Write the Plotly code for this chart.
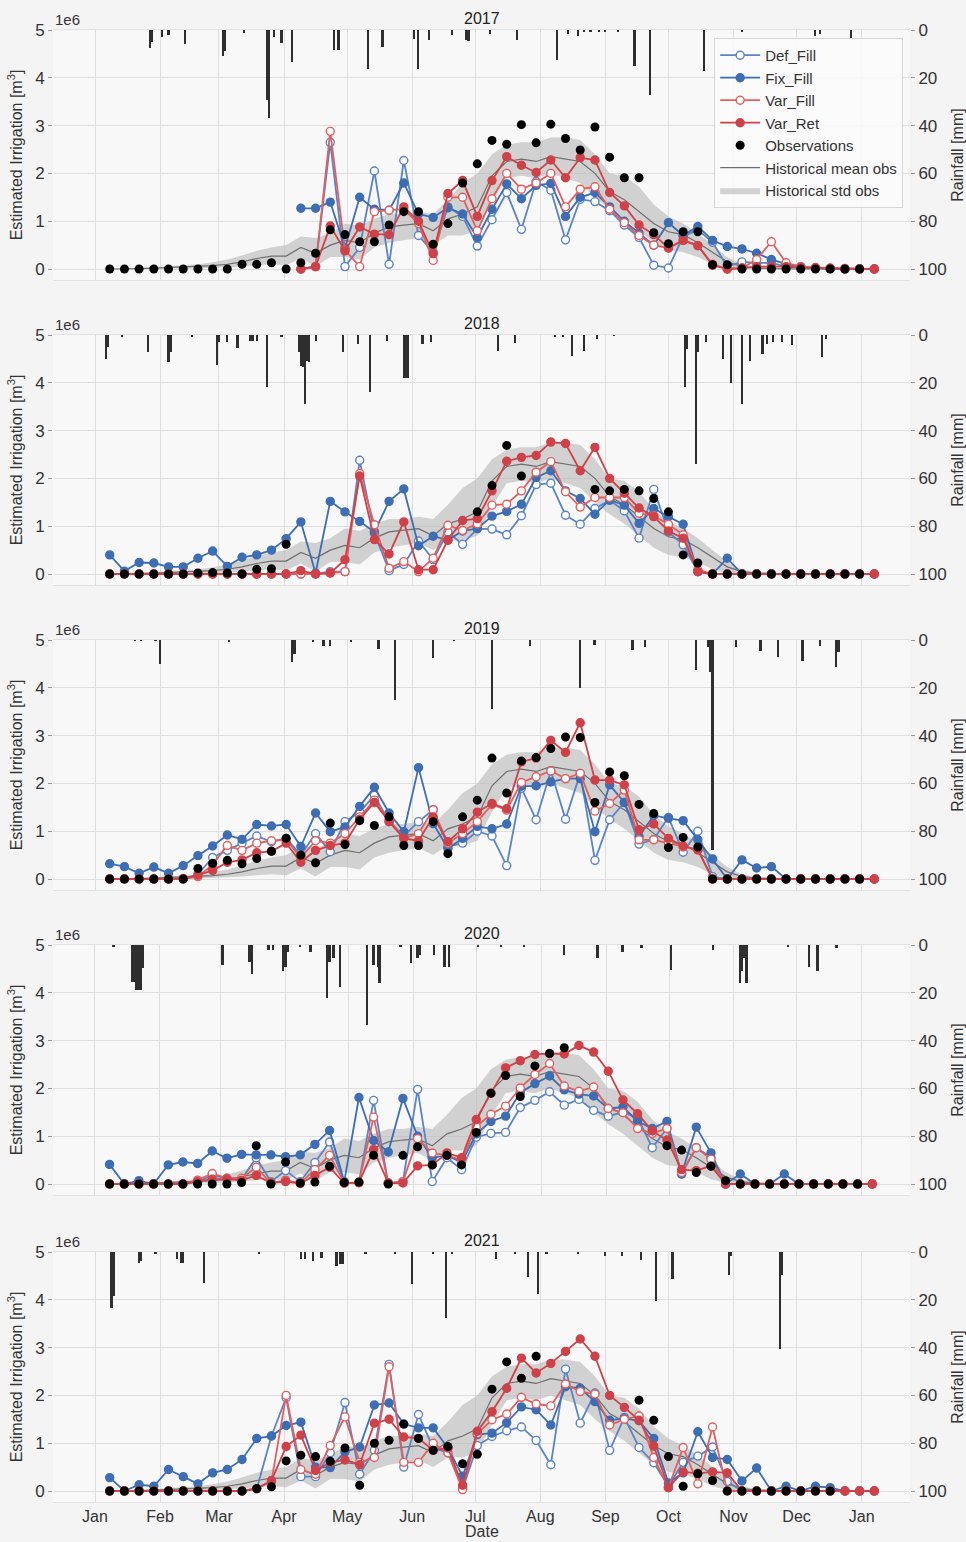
import pandas as pd
import plotly.graph_objects as go

N = None
years = [2017, 2018, 2019, 2020, 2021]

# Historical statistics of observations (in 1e6 m3), weekly
hist_mean = [0, 0, 0.01, 0.02, 0.03, 0.04, 0.05, 0.07, 0.1, 0.15,
             0.22, 0.27, 0.27, 0.45, 0.33, 0.5, 0.6, 0.55, 0.75, 0.88,
             0.92, 0.95, 0.8, 1.05, 1.15, 1.3, 1.95, 2.25, 2.3, 2.25,
             2.35, 2.3, 2.25, 2.0, 1.62, 1.45, 1.2, 0.95, 0.78, 0.72,
             0.55, 0.35, 0.15, 0.05, 0.02, 0.01, 0, 0, 0, 0,
             0, 0, 0]
hist_std_upper = [0, 0, 0.02, 0.04, 0.06, 0.08, 0.1, 0.14, 0.2, 0.28,
                  0.38, 0.45, 0.5, 0.68, 0.65, 0.75, 0.95, 0.9, 1.05, 1.15,
                  1.15, 1.2, 1.15, 1.45, 1.8, 2.0, 2.4, 2.6, 2.65, 2.65,
                  2.75, 2.75, 2.7, 2.4, 2.0, 1.95, 1.72, 1.35, 1.1, 0.95,
                  0.75, 0.5, 0.25, 0.1, 0.04, 0.02, 0.01, 0, 0, 0,
                  0, 0, 0]
hist_std_lower = [0, 0, 0, 0, 0, 0.01, 0.01, 0.02, 0.03, 0.05,
                  0.08, 0.1, 0.08, 0.22, 0.05, 0.25, 0.25, 0.2, 0.45, 0.55,
                  0.6, 0.65, 0.5, 0.7, 0.7, 0.8, 1.4, 1.9, 1.95, 1.9,
                  2.0, 1.9, 1.8, 1.5, 1.25, 1.05, 0.8, 0.55, 0.4, 0.35,
                  0.25, 0.1, 0.02, 0, 0, 0, 0, 0, 0, 0,
                  0, 0, 0]

# ---------------- 2017 ----------------
obs_2017 = [0, 0, 0, 0, 0, 0, 0, 0, 0, 0.1,
            0.1, 0.13, 0, 0.13, 0.33, 0.82, 0.72, 0.57, 0.57, 0.92,
            1.2, 1.2, 0.52, 0.95, 1.8, 2.2, 2.69, 2.61, 3.02, 2.64,
            3.03, 2.73, 2.49, 2.97, 2.34, 1.91, 1.91, 0.76, 0.53, 0.78,
            0.78, 0.09, 0.09, 0, 0, 0, 0, 0, 0, 0,
            0, 0, N]
def_2017 = [N, N, N, N, N, N, N, N, N, N,
            N, N, N, 0, 0.05, 2.65, 0.05, 0.45, 2.05, 0.1,
            2.27, 0.7, 0.35, 1.3, 1.1, 0.48, 1.03, 1.6, 0.83, 1.83,
            1.65, 0.61, 1.46, 1.41, 1.22, 0.92, 0.66, 0.08, 0.02, 0.68,
            0.82, 0.56, 0.05, 0.15, 0.13, 0.13, 0.05, 0.03, 0.02, 0.01,
            0, 0, 0]
fix_2017 = [N, N, N, N, N, N, N, N, N, N,
            N, N, N, 1.27, 1.27, 1.4, 0.44, 1.5, 1.25, 1.23,
            1.8, 1.15, 1.08, 1.28, 1.15, 0.66, 1.25, 1.78, 1.47, 1.75,
            1.79, 1.1, 1.5, 1.6, 1.3, 1.0, 0.75, 0.5, 0.97, 0.7,
            0.89, 0.6, 0.47, 0.42, 0.33, 0.2, 0.1, 0.05, 0.02, 0.01,
            0, 0, 0]
varfill_2017 = [N, N, N, N, N, N, N, N, N, N,
                N, N, N, 0, 0.05, 2.88, 0.4, 0.05, 1.2, 1.23,
                1.25, 0.95, 0.18, 1.5, 1.5, 0.8, 1.47, 2.0, 1.67, 1.8,
                2.0, 1.3, 1.67, 1.72, 1.25, 0.97, 0.7, 0.5, 0.44, 0.6,
                0.49, 0.1, 0, 0.02, 0.2, 0.57, 0.13, 0.05, 0.03, 0.02,
                0.01, 0, 0]
varret_2017 = [N, N, N, N, N, N, N, N, N, N,
               N, N, N, 0, 0.05, 0.9, 0.38, 0.88, 0.73, 0.72,
               1.3, 1.0, 0.32, 1.58, 1.85, 1.1, 1.85, 2.35, 2.17, 2.02,
               2.28, 1.91, 2.33, 2.28, 1.6, 1.32, 0.92, 0.72, 0.44, 0.6,
               0.49, 0.08, 0, 0.02, 0.05, 0.05, 0.05, 0.03, 0.02, 0.01,
               0, 0, 0]

# ---------------- 2018 ----------------
obs_2018 = [0, 0, 0, 0, 0, 0, 0.02, 0.03, 0.02, 0,
            0.1, 0.11, 0.62, N, N, N, N, N, N, N,
            N, N, N, N, N, 1.3, 1.85, 2.69, 2.05, N,
            N, N, N, 1.77, 1.74, 1.77, 1.74, 1.58, 1.3, 0.4,
            0.23, 0, 0, 0, 0, 0, 0, 0, 0, 0,
            0, 0, N]
def_2018 = [0, 0, 0, 0, 0, 0, 0, 0, 0, 0,
            0, 0, 0, 0, 0, 0.05, 0.05, 2.38, 0.85, 0.07,
            0.2, 0.69, 0.3, 0.88, 0.62, 0.95, 0.94, 0.82, 1.22, 1.87,
            1.9, 1.23, 1.04, 1.37, 1.54, 1.32, 0.75, 1.77, 0.88, 0.61,
            0.05, 0, 0, 0, 0, 0, 0, 0, 0, 0,
            0, 0, 0]
fix_2018 = [0.4, 0.06, 0.24, 0.23, 0.15, 0.15, 0.33, 0.48, 0.16, 0.35,
            0.4, 0.5, 0.74, 1.09, 0.02, 1.52, 1.3, 1.1, 0.88, 1.52,
            1.78, 0.59, 0.79, 0.71, 0.9, 0.95, 1.21, 1.31, 1.46, 2.02,
            2.16, 1.74, 1.58, 1.25, 1.55, 1.44, 1.06, 1.37, 1.2, 1.04,
            0.05, 0, 0.33, 0, 0, 0, 0, 0, 0, 0,
            0, 0, 0]
varfill_2018 = [0, 0, 0, 0, 0, 0, 0, 0, 0, 0,
                0, 0, 0, 0, 0, 0.02, 0.05, 2.1, 1.03, 0.12,
                0.26, 0.05, 0.33, 1.02, 0.91, 1.05, 1.44, 1.46, 1.74, 2.13,
                2.35, 1.72, 1.4, 1.6, 1.6, 1.6, 1.27, 1.22, 1.04, 0.82,
                0.09, 0, 0, 0, 0, 0, 0, 0, 0, 0,
                0, 0, 0]
varret_2018 = [0, 0, 0, 0, 0, 0, 0, 0, 0, 0,
               0, 0, 0, 0.07, 0, 0.02, 0.3, 2.05, 0.72, 0.42,
               1.09, 0.09, 0.09, 0.71, 1.12, 1.16, 1.74, 2.36, 2.44, 2.48,
               2.76, 2.73, 2.16, 2.65, 2.0, 1.69, 1.38, 1.2, 0.9, 0.75,
               0.05, 0, 0, 0, 0, 0, 0, 0, 0, 0,
               0, 0, 0]

# ---------------- 2019 ----------------
obs_2019 = [0, 0, 0, 0, 0, 0, 0.22, 0.33, 0.39, 0.32,
            0.43, 0.58, 0.85, 0.5, 0.34, 1.17, 0.72, 1.22, 1.12, 1.3,
            0.7, 0.7, 1.2, 0.53, 1.3, 1.65, 2.53, 1.8, 2.47, 2.54,
            2.73, 2.97, 2.96, 1.6, 2.24, 2.16, 1.56, 1.37, 0.66, 0.87,
            0.67, 0, 0, 0, 0, 0, 0, 0, 0, 0,
            0, 0, N]
def_2019 = [0, 0, 0, 0, 0, 0, 0.1, 0.45, 0.6, 0.75,
            0.9, 0.78, 0.85, 0.5, 0.95, 0.57, 1.2, 1.4, 1.75, 1.2,
            0.9, 1.2, 1.45, 0.68, 0.75, 1.0, 0.9, 0.28, 1.9, 1.24,
            2.26, 1.25, 2.21, 0.39, 1.24, 1.6, 0.73, 0.83, 1.29, 0.56,
            1.0, 0.05, 0, 0, 0, 0, 0, 0, 0, 0,
            0, 0, 0]
fix_2019 = [0.32, 0.26, 0.12, 0.25, 0.12, 0.28, 0.49, 0.69, 0.92, 0.83,
            1.14, 1.11, 1.14, 0.68, 1.38, 0.99, 1.09, 1.52, 1.92, 1.38,
            0.99, 2.33, 1.16, 0.64, 0.85, 1.1, 1.05, 1.15, 1.94, 1.95,
            2.03, 2.1, 2.1, 0.99, 1.97, 1.6, 0.89, 1.33, 1.27, 1.22,
            0.82, 0.42, 0, 0.4, 0.23, 0.26, 0, 0, 0, 0,
            0, 0, 0]
varfill_2019 = [0, 0, 0, 0, 0, 0, 0.05, 0.3, 0.7, 0.6,
                0.75, 0.8, 0.82, 0.45, 0.8, 0.75, 0.95, 1.3, 1.65, 1.25,
                0.85, 0.95, 1.45, 0.75, 0.95, 1.2, 1.56, 1.44, 2.02, 2.14,
                2.26, 2.1, 2.21, 1.42, 1.58, 1.86, 0.82, 0.82, 0.75, 0.67,
                0.61, 0, 0, 0, 0, 0, 0, 0, 0, 0,
                0, 0, 0]
varret_2019 = [0, 0, 0, 0, 0, 0.01, 0.08, 0.18, 0.35, 0.4,
               0.55, 0.58, 0.75, 0.35, 0.6, 0.7, 0.75, 1.25, 1.6, 1.2,
               0.85, 0.8, 1.3, 0.78, 1.05, 1.4, 1.58, 1.47, 2.45, 2.53,
               2.9, 2.65, 3.27, 2.07, 2.07, 1.97, 1.03, 1.15, 0.85, 0.69,
               0.61, 0, 0, 0, 0, 0, 0, 0, 0, 0,
               0, 0, 0]

# ---------------- 2020 ----------------
obs_2020 = [0, 0, 0, 0, 0, 0, 0, 0, 0, 0.03,
            0.8, 0, 0.46, 0.02, 0.04, 0.37, 0.03, 0.04, 0.6, 0,
            0.6, 0.78, 0.4, 0.6, 0.4, 1.08, 1.9, 2.27, 1.83, 2.47,
            2.73, 2.85, N, N, N, N, N, N, 0.8, 0.71,
            0.24, 0.37, 0.07, 0, 0, 0, 0, 0, 0, 0,
            0, 0, N]
def_2020 = [0, 0, 0, 0, 0, 0, 0.05, 0.18, 0.12, 0.1,
            0.55, 0.05, 0.28, 0.05, 0.45, 0.88, 0.02, 0.03, 1.75, 0.02,
            0.05, 1.98, 0.05, 0.55, 0.3, 0.98, 1.06, 1.08, 1.6, 1.75,
            1.93, 1.65, 1.77, 1.54, 1.42, 1.5, 1.39, 0.76, 1.16, 0.21,
            0.76, 0.56, 0, 0, 0, 0, 0, 0, 0, 0,
            0, 0, 0]
fix_2020 = [0.41, 0, 0.07, 0, 0.4, 0.46, 0.43, 0.69, 0.54, 0.62,
            0.61, 0.61, 0.57, 0.61, 0.83, 1.12, 0.05, 1.81, 0.91, 0.67,
            1.79, 1.0, 0.55, 0.6, 0.45, 1.05, 1.31, 1.42, 1.91, 2.1,
            2.26, 1.97, 1.88, 1.84, 1.58, 1.61, 1.31, 1.16, 1.31, 0.21,
            1.19, 0.65, 0, 0.21, 0, 0, 0.21, 0, 0, 0,
            0, 0, 0]
varfill_2020 = [0, 0, 0, 0, 0, 0, 0.08, 0.22, 0.12, 0.12,
                0.35, 0.02, 0.08, 0.02, 0.3, 0.6, 0.02, 0.03, 1.4, 0.02,
                0.05, 0.95, 0.65, 0.6, 0.5, 1.2, 1.46, 1.63, 2.01, 2.29,
                2.52, 2.05, 1.94, 2.03, 1.58, 1.49, 1.16, 1.06, 1.16, 0.24,
                0.76, 0.52, 0, 0, 0, 0, 0, 0, 0, 0,
                0, 0, 0]
varret_2020 = [0, 0, 0, 0, 0, 0, 0.05, 0.1, 0.1, 0.08,
               0.18, 0.02, 0.05, 0.01, 0.18, 0.35, 0.02, 0.03, 0.72, 0.02,
               0.02, 0.38, 0.4, 0.65, 0.55, 1.35, 1.9, 2.43, 2.58, 2.71,
               2.73, 2.72, 2.9, 2.76, 2.36, 1.76, 1.47, 1.11, 0.92, 0.3,
               0.28, 0.38, 0, 0, 0, 0, 0, 0, 0, 0,
               0, 0, 0]

# ---------------- 2021 ----------------
obs_2021 = [0, 0, 0, 0, 0, 0, 0, 0, 0, 0,
            0.05, 0.09, 0.63, 0.75, 0.72, 0.62, 0.9, 0.12, 1.0, 1.06,
            1.4, 1.1, 0.85, 0.93, 0.57, 0.77, 2.13, 2.7, 2.36, 2.82,
            N, N, N, N, N, N, 1.9, 1.48, 0.72, 0.1,
            0.36, 0.22, 0, 0, 0, 0, 0, 0, 0, 0,
            N, N, N]
def_2021 = [0, 0, 0, 0, 0, 0, 0, 0, 0, 0,
            0.05, 1.15, 1.95, 0.3, 0.3, 0.8, 1.85, 0.35, 0.85, 2.65,
            0.5, 1.6, 0.9, 0.8, 0.05, 0.95, 1.14, 1.26, 1.34, 1.06,
            0.55, 2.55, 1.42, 2.05, 0.85, 1.54, 0.91, 0.59, 0.1, 0.6,
            0.73, 0.92, 0.2, 0, 0, 0, 0, 0, 0, 0,
            0, 0, 0]
fix_2021 = [0.28, 0, 0.13, 0.1, 0.45, 0.3, 0.15, 0.38, 0.45, 0.66,
            1.1, 1.15, 1.37, 1.44, 0.5, 0.49, 0.82, 0.92, 1.8, 1.84,
            1.4, 1.32, 1.32, 0.9, 0.31, 1.18, 1.21, 1.43, 1.76, 1.7,
            1.38, 2.18, 2.15, 1.87, 1.48, 1.52, 1.47, 1.1, 0.17, 0.38,
            1.24, 0.7, 0.66, 0.21, 0.48, 0, 0.1, 0, 0.1, 0.07,
            0, 0, 0]
varfill_2021 = [0, 0, 0, 0, 0, 0, 0, 0, 0, 0,
                0.05, 0.2, 2.0, 0.45, 0.35, 0.95, 1.55, 0.6, 0.7, 2.6,
                0.6, 0.6, 1.0, 0.8, 0.03, 1.2, 1.49, 1.61, 1.96, 1.82,
                1.78, 2.24, 2.08, 2.03, 1.38, 1.5, 1.57, 0.7, 0.07, 0.91,
                0.15, 1.34, 0, 0, 0, 0, 0, 0, 0, 0,
                0, 0, 0]
varret_2021 = [0, 0, 0, 0, 0, 0, 0, 0, 0, 0,
               0.05, 0.22, 0.93, 1.17, 0.43, 0.6, 0.65, 0.55, 1.42, 1.5,
               1.13, 1.1, 0.85, 0.9, 0.12, 1.25, 1.66, 2.15, 2.78, 2.47,
               2.67, 2.92, 3.18, 2.82, 2.0, 1.75, 1.48, 0.94, 0.07, 0.4,
               0.37, 0.4, 0.38, 0, 0, 0, 0, 0, 0, 0,
               0, 0, 0]

# ---------------- daily rainfall (day offset from 1 Jan, mm) ----------------
rain_day_2017 = [26, 27, 32, 35, 43, 61, 62, 71, 82, 83, 85, 89, 94, 114, 116, 130, 137,
                 152, 154, 159, 170, 177, 178, 188, 201, 220, 225, 230, 233, 236, 240,
                 243, 249, 257, 264, 290, 308, 343, 345, 360]
rain_mm_2017 = [7.6, 5, 3, 2, 6, 10.7, 8.6, 1.3, 29.4, 37, 3, 5.5, 13.5, 8.3, 8.3, 16.5, 7.2,
                3.7, 16.5, 4, 2, 4, 4.4, 1.7, 4, 12.5, 1.7, 2.4, 1, 1, 1,
                1, 1, 15, 27, 17, 1, 2.4, 1.7, 3.8]
rain_day_2018 = [5, 6, 13, 25, 35, 36, 46, 58, 59, 63, 68, 74, 75, 77, 82, 89, 97, 98, 99,
                 100, 101, 102, 105, 118, 125, 131, 139, 147, 148, 149, 156, 160,
                 192, 200, 219, 223, 227, 233, 239, 247, 281, 282, 286, 287, 291, 299,
                 303, 308, 312, 318, 320, 323, 327, 332, 346, 348]
rain_mm_2018 = [10, 5, 0.5, 7, 11.4, 7.2, 0.5, 12.5, 3, 3, 5.5, 2.4, 2.4, 2.4, 21.8, 0.5, 7.2, 12.8, 13.5,
                28.8, 10.7, 11.4, 2.4, 7, 3.8, 24, 2.4, 18, 18, 18, 3.8, 3,
                6.5, 3.5, 0.5, 0.5, 8.6, 6.5, 1.7, 0.3, 21.8, 5.8, 54, 7.2, 3, 10,
                20, 28.8, 10.7, 8, 3.8, 3, 3, 4, 9.3, 1.7]
rain_day_2019 = [19, 22, 29, 31, 64, 94, 95, 104, 109, 112, 122, 135, 143, 161, 171,
                 189, 207, 231, 238, 256, 262, 286, 292, 293, 294, 305, 317, 325, 337,
                 345, 353, 354]
rain_mm_2019 = [0.3, 0.3, 0.3, 10, 0.5, 9.3, 5.8, 0.5, 2.4, 2.4, 0.5, 3.8, 25, 7.6, 0.3,
                28.8, 2.4, 20, 2, 4, 3, 12.5, 3, 13.5, 87.8, 3, 4.4, 7.2, 8.6,
                2.4, 11.4, 5]
rain_day_2020 = [9, 18, 19, 20, 21, 22, 23, 61, 74, 75, 83, 85, 90, 91, 92, 98, 103, 111,
                 112, 114, 117, 130, 133, 135, 136, 146, 151, 154, 155, 162, 167, 169,
                 183, 194, 205, 224, 240, 252, 261, 275, 295, 308, 309, 310, 311, 331,
                 341, 345, 354]
rain_mm_2020 = [0.5, 15.3, 15.3, 18.8, 18.8, 18.8, 9.7, 8.3, 7, 12, 2, 2, 11, 9, 2.8, 0.5, 2.8, 22.2,
                7, 5.5, 17.4, 33.3, 8.3, 9, 16, 0.5, 7.6, 5.3, 4.2, 4.2, 9, 9,
                0.5, 0.5, 0.5, 4.2, 5.6, 2.8, 1.4, 10.4, 2, 16, 11, 5.5, 16, 0.5,
                9, 11, 1.4]
rain_day_2021 = [8, 9, 21, 22, 29, 39, 41, 42, 52, 78, 98, 100, 104, 108, 115, 117, 118,
                 129, 143, 151, 161, 167, 170, 191, 200, 206, 211, 215, 230, 243, 251,
                 260, 267, 275, 302, 303, 326, 327]
rain_mm_2021 = [23.3, 18.4, 4.5, 3.8, 0.5, 3.1, 4.5, 4.5, 12.8, 0.5, 3.1, 3.1, 3.8, 2.4, 5.9, 5.2, 5.2,
                0.5, 0.5, 13.5, 0.5, 27.5, 0.5, 2.8, 0.5, 10.5, 17.5, 0.5, 0.5, 1.8, 1.8,
                3.2, 20.3, 11.2, 9.6, 1.8, 40.5, 9.8]

irr_ticks = [0, 1, 2, 3, 4, 5]
rain_ticks = [0, 20, 40, 60, 80, 100]

series = {
    2017: dict(obs=obs_2017, d=def_2017, f=fix_2017, vf=varfill_2017, vr=varret_2017,
               rd=rain_day_2017, rm=rain_mm_2017),
    2018: dict(obs=obs_2018, d=def_2018, f=fix_2018, vf=varfill_2018, vr=varret_2018,
               rd=rain_day_2018, rm=rain_mm_2018),
    2019: dict(obs=obs_2019, d=def_2019, f=fix_2019, vf=varfill_2019, vr=varret_2019,
               rd=rain_day_2019, rm=rain_mm_2019),
    2020: dict(obs=obs_2020, d=def_2020, f=fix_2020, vf=varfill_2020, vr=varret_2020,
               rd=rain_day_2020, rm=rain_mm_2020),
    2021: dict(obs=obs_2021, d=def_2021, f=fix_2021, vf=varfill_2021, vr=varret_2021,
               rd=rain_day_2021, rm=rain_mm_2021),
}

C_DEF = "#5a84c4"
C_FIX = "#3d6db3"
C_VF = "#e0605f"
C_VR = "#cf4148"
FONT = "Liberation Sans, Arial, sans-serif"


def scale(v):
    return [None if x is None else x * 1e6 for x in v]


fig = go.Figure()
W, H = 966, 1542
ML, MR, MT, MB = 53, 56, 30, 40
PH = H - MT - MB
panel_tops = [30, 335, 640, 945, 1252]
panel_h = 250
layout = {}
annotations = []

for k, yr in enumerate(years):
    s = series[yr]
    xa = "x" if k == 0 else f"x{k+1}"
    ya = f"y{2*k+1}" if k > 0 else "y"
    ya2 = f"y{2*k+2}"
    dates = pd.date_range(f"{yr}-01-08", periods=53, freq="7D")
    show = (k == 0)

    fig.add_trace(go.Scatter(x=dates, y=scale(hist_std_lower), mode="lines", line=dict(width=0),
                             showlegend=False, hoverinfo="skip", xaxis=xa, yaxis=ya))
    fig.add_trace(go.Scatter(x=dates, y=scale(hist_std_upper), mode="lines", line=dict(width=0),
                             fill="tonexty", fillcolor="rgba(185,185,185,0.62)",
                             name="Historical std obs", legendrank=7, showlegend=show,
                             xaxis=xa, yaxis=ya))
    fig.add_trace(go.Scatter(x=dates, y=scale(hist_mean), mode="lines",
                             line=dict(color="#6e6e6e", width=1.2),
                             name="Historical mean obs", legendrank=6, showlegend=show,
                             xaxis=xa, yaxis=ya))
    for key, name, col, filled, rank in [("d", "Def_Fill", C_DEF, False, 1),
                                         ("f", "Fix_Fill", C_FIX, True, 2),
                                         ("vf", "Var_Fill", C_VF, False, 3),
                                         ("vr", "Var_Ret", C_VR, True, 4)]:
        fig.add_trace(go.Scatter(
            x=dates, y=scale(s[key]), mode="lines+markers", name=name, legendrank=rank,
            showlegend=show, connectgaps=False,
            line=dict(color=col, width=1.8),
            marker=dict(size=8, symbol="circle", color=col if filled else "white",
                        line=dict(color=col, width=1.4)),
            xaxis=xa, yaxis=ya))
    fig.add_trace(go.Scatter(x=dates, y=scale(s["obs"]), mode="markers", name="Observations",
                             legendrank=5, showlegend=show,
                             marker=dict(size=9, color="black"), xaxis=xa, yaxis=ya))
    rdates = pd.Timestamp(f"{yr}-01-01") + pd.to_timedelta(s["rd"], unit="D")
    fig.add_trace(go.Bar(x=rdates, y=s["rm"], width=86400000 * 0.95,
                         marker=dict(color="#2e2e2e", line=dict(width=0)),
                         showlegend=False, xaxis=xa, yaxis=ya2, name="Rainfall"))

    top = panel_tops[k]
    dom = [(H - MB - (top + panel_h)) / PH, (H - MB - top) / PH]
    xkey = "xaxis" if k == 0 else f"xaxis{k+1}"
    ykey = "yaxis" if k == 0 else f"yaxis{2*k+1}"
    y2key = f"yaxis{2*k+2}"
    last = (k == len(years) - 1)
    layout[xkey] = dict(
        type="date", range=[f"{yr-1}-12-12", f"{yr+1}-01-24"], dtick="M1", tick0=f"{yr}-01-01",
        tickformat="%b", showticklabels=last, showgrid=True, gridcolor="#dedede", gridwidth=1,
        zeroline=False, showline=True, linecolor="#e2e2e2", mirror=True, anchor=ya,
        tickfont=dict(size=16, color="#333"), ticks="", automargin=False,
    )
    layout[ykey] = dict(
        domain=dom, range=[-0.23e6, 5.0e6], tickvals=[t * 1e6 for t in irr_ticks],
        ticktext=[str(t) for t in irr_ticks], ticks="outside", ticklen=4, tickcolor="#999",
        showgrid=True, gridcolor="#dedede", zeroline=False, anchor=xa, automargin=False,
        tickfont=dict(size=17, color="#333"),
        title=dict(text="Estimated Irrigation [m<sup>3</sup>]", font=dict(size=16, color="#333"), standoff=8),
    )
    layout[y2key] = dict(
        range=[104.6, 0], tickvals=rain_ticks, ticks="outside", ticklen=4, tickcolor="#999",
        showgrid=False, zeroline=False, overlaying=ya, side="right", anchor=xa, automargin=False,
        tickfont=dict(size=17, color="#333"),
        title=dict(text="Rainfall [mm]", font=dict(size=16, color="#333"), standoff=6),
    )
    annotations.append(dict(text=str(yr), xref="paper", x=0.5, yref="paper",
                            y=dom[1], yanchor="bottom", yshift=1, showarrow=False,
                            font=dict(size=16, color="#222")))
    annotations.append(dict(text="1e6", xref="paper", x=0.0, xanchor="left", yref="paper",
                            y=dom[1], yanchor="bottom", yshift=0, showarrow=False,
                            font=dict(size=15, color="#333")))

# x-axis title of the bottom panel
annotations.append(dict(text="Date", xref="paper", x=0.5, yref="paper",
                        y=(H - MB - 1531) / PH, yanchor="middle", showarrow=False,
                        font=dict(size=16, color="#333")))

fig.update_layout(
    width=W, height=H, margin=dict(l=ML, r=MR, t=MT, b=MB, autoexpand=False),
    paper_bgcolor="#f4f4f4", plot_bgcolor="#f8f8f8",
    font=dict(family=FONT, color="#333"),
    barmode="overlay", bargap=0,
    annotations=annotations,
    legend=dict(x=0.992, xanchor="right", y=0.9946, yanchor="top",
                bgcolor="rgba(250,250,250,0.9)", bordercolor="#d6d6d6", borderwidth=1,
                font=dict(size=15, color="#333"), tracegroupgap=0, traceorder="normal",
                itemwidth=40),
    **layout,
)
fig.write_html("out.html")
